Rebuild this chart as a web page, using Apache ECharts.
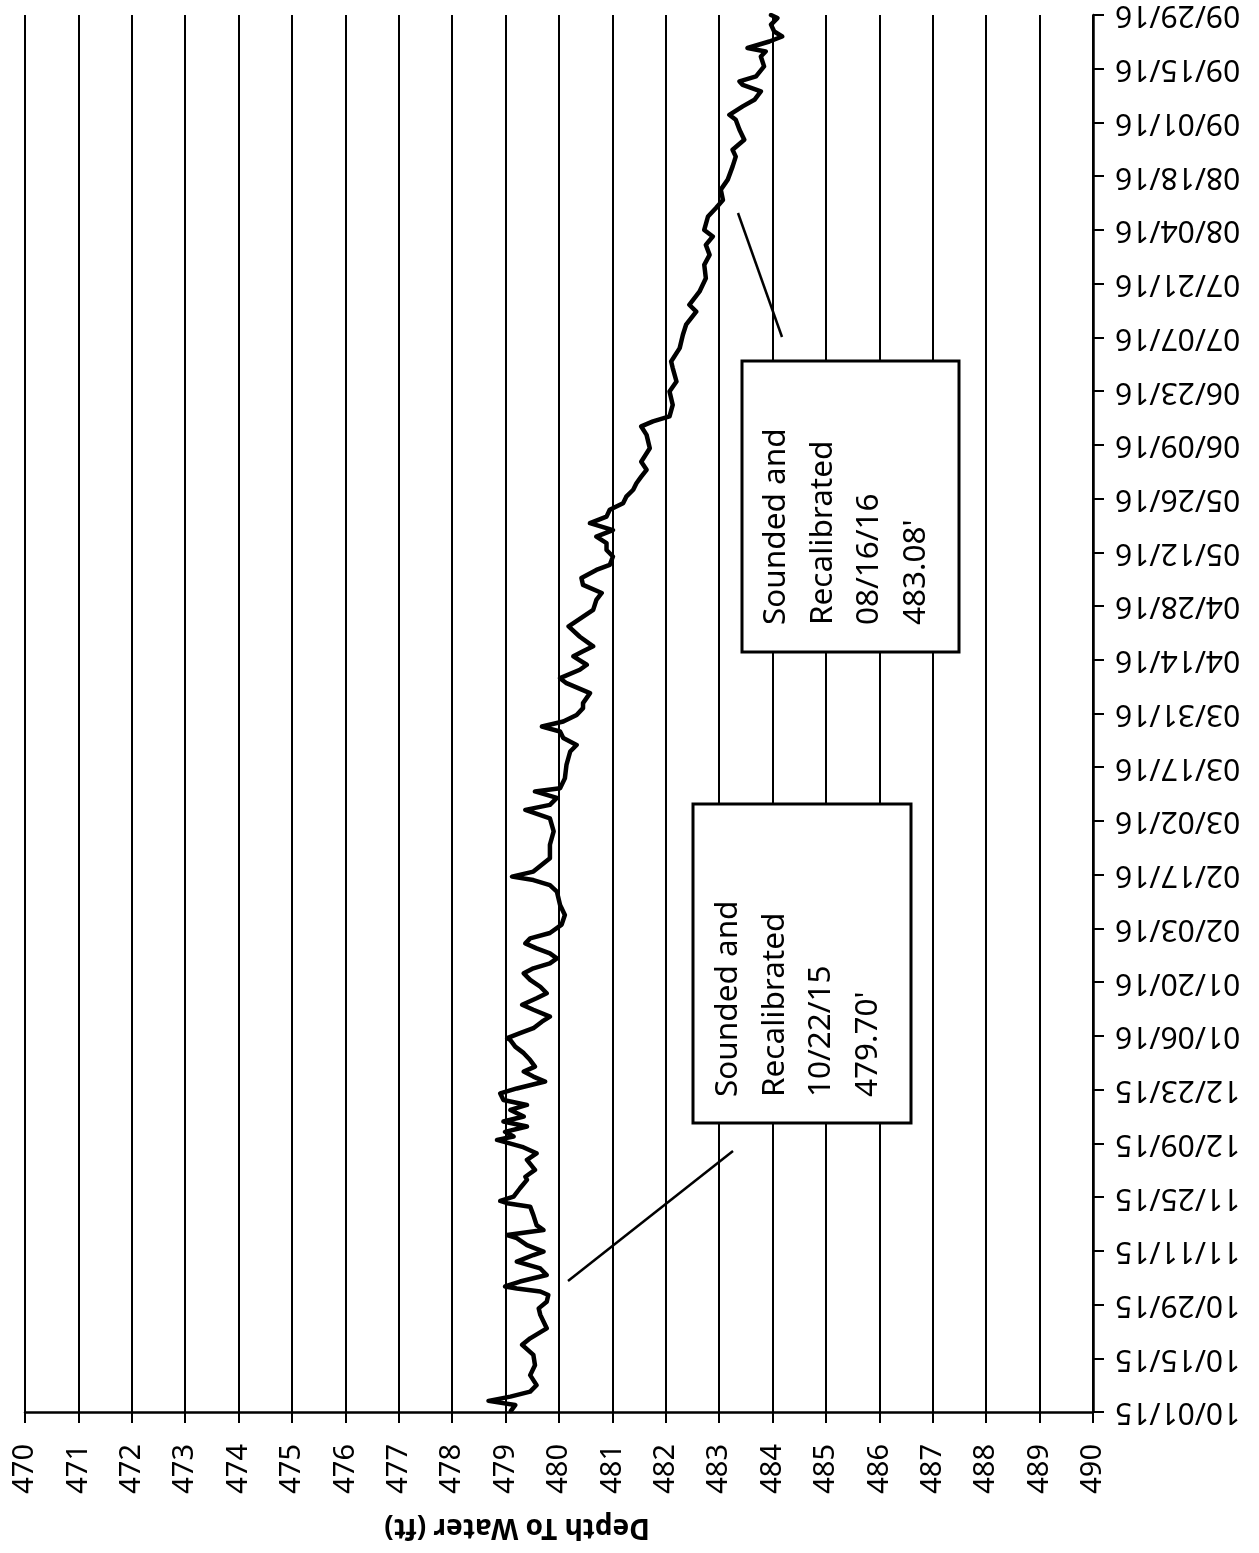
<!DOCTYPE html>
<html>
<head>
<meta charset="utf-8">
<script src="https://cdn.jsdelivr.net/npm/echarts@6/dist/echarts.min.js"></script>
<style>
html,body{margin:0;padding:0;background:#fff;}
#chart{width:1259px;height:1553px;}
</style>
</head>
<body>
<div id="chart"></div>
<script>
// Date tick labels (every 14 days from 10/01/15)
const dateTickLabels = ['10/01/15','10/15/15','10/29/15','11/11/15','11/25/15','12/09/15','12/23/15',
  '01/06/16','01/20/16','02/03/16','02/17/16','03/02/16','03/17/16','03/31/16','04/14/16','04/28/16',
  '05/12/16','05/26/16','06/09/16','06/23/16','07/07/16','07/21/16','08/04/16','08/18/16','09/01/16',
  '09/15/16','09/29/16'];

// Elapsed days since 10/01/15
const dayOffsets = [
0.3,1.8,2.9,4.0,5.3,7.0,9.6,12.2,14.9,17.5,19.2,21.8,25.3,27.0,28.7,30.5,31.4,32.2,32.7,34.0,35.7,37.4,39.2,40.9,41.8,43.5,45.3,46.1,47.4,48.7,51.3,53.5,54.4,55.0,56.1,58.3,60.5,
61.3,63.1,65.7,67.4,69.1,70.9,71.8,73.0,74.4,75.7,77.0,78.7,80.0,81.3,83.0,84.3,86.1,87.4,88.7,90.0,91.7,93.5,95.2,96.9,97.4,98.7,100.0,101.7,103.0,104.8,106.1,107.8,109.1,110.8,112.6,114.3,115.6,116.9,118.2,119.5,120.8,122.1,
123.4,124.8,127.0,129.5,132.1,135.6,137.3,138.6,139.5,140.8,144.3,147.8,151.3,154.7,156.9,158.2,160.0,161.7,162.5,165.1,168.6,172.1,173.8,175.6,177.3,178.6,179.9,181.6,183.4,
184.7,187.3,189.9,191.2,193.4,194.7,196.9,198.2,199.5,202.0,204.7,209.0,211.6,213.4,215.5,217.3,219.4,220.7,222.9,224.6,226.4,228.1,229.8,231.6,233.3,235.1,236.8,238.5,240.3,242.0,243.7,245.5,
247.6,251.1,254.6,256.8,258.1,259.4,262.4,265.9,268.5,272.0,273.7,277.2,280.7,283.3,286.7,288.5,291.9,295.4,298.9,301.5,304.1,306.3,
308.0,311.5,313.7,315.8,318.5,321.1,324.5,327.1,328.9,331.5,334.1,336.7,338.0,340.2,341.9,344.1,345.8,346.7,348.0,350.6,353.2,354.5,355.4,357.1,358.4,359.7,361.5,363.2,364.0];

// Depth to water (ft)
const depthFt = [
479.10,479.18,478.68,479.09,479.46,479.58,479.46,479.55,479.52,479.31,479.46,479.77,479.65,479.62,479.77,479.80,479.65,479.21,478.99,479.27,479.77,479.65,479.21,479.52,479.71,479.40,479.21,479.03,479.71,479.58,479.52,479.46,479.03,478.90,479.15,479.27,479.40,
479.37,479.55,479.40,479.58,479.31,478.84,479.15,478.99,479.40,478.96,479.34,479.09,479.40,478.96,478.90,479.21,479.74,479.52,479.34,479.55,479.46,479.34,479.18,479.09,479.03,479.27,479.52,479.68,479.83,479.52,479.31,479.58,479.77,479.65,479.46,479.34,479.52,479.83,479.96,479.83,479.58,479.37,
479.46,479.83,480.05,480.11,480.02,479.96,479.83,479.52,479.12,479.52,479.83,479.83,479.90,479.83,479.37,479.83,479.96,479.55,480.02,480.11,480.14,480.21,480.33,480.08,480.02,479.68,480.08,480.33,480.45,
480.45,480.58,480.14,480.02,480.39,480.52,480.27,480.45,480.64,480.39,480.18,480.64,480.70,480.80,480.45,480.42,480.70,480.95,481.01,480.89,480.89,480.70,481.01,480.58,480.89,480.95,481.20,481.26,481.39,481.45,481.54,481.64,
481.54,481.70,481.64,481.54,481.76,482.07,482.13,482.07,482.20,482.13,482.10,482.26,482.32,482.38,482.57,482.44,482.63,482.75,482.72,482.82,482.75,482.88,
482.72,482.79,482.94,483.07,483.03,483.16,483.25,483.31,483.25,483.47,483.38,483.31,483.19,483.44,483.66,483.78,483.44,483.38,483.69,483.84,483.78,483.87,483.53,483.94,484.18,484.03,483.97,484.09,483.97];

const axisTitle = 'Depth To Water (ft)';
const note1Lines = ['Sounded and', 'Recalibrated', '10/22/15', "479.70'"];
const note2Lines = ['Sounded and', 'Recalibrated', '08/16/16', "483.08'"];

const FONT = '"Noto Sans", sans-serif';
const seriesData = dayOffsets.map((d, i) => [depthFt[i], d]);

const chart = echarts.init(document.getElementById('chart'), null, {renderer: 'canvas'});
chart.setOption({
  backgroundColor: '#ffffff',
  animation: false,
  grid: {left: 25, right: 166, top: 15, bottom: 141, containLabel: false},
  xAxis: {
    type: 'value', min: 470, max: 490, interval: 1, position: 'bottom',
    axisLine: {show: true, lineStyle: {color: '#000', width: 2.5}},
    axisTick: {show: true, length: 11, lineStyle: {color: '#000', width: 2}},
    axisLabel: {rotate: 90, fontSize: 29, color: '#000', fontFamily: FONT, margin: 32},
    splitLine: {show: true, lineStyle: {color: '#000', width: 2}}
  },
  yAxis: {
    type: 'value', min: 0, max: 364, interval: 14, position: 'right',
    axisLine: {show: true, lineStyle: {color: '#000', width: 2.5}},
    axisTick: {show: true, length: 11, lineStyle: {color: '#000', width: 2}},
    axisLabel: {rotate: 180, fontSize: 30, color: '#000', fontFamily: FONT, margin: 22,
      formatter: v => dateTickLabels[Math.round(v / 14)] || ''},
    splitLine: {show: false}
  },
  series: [{
    type: 'line', data: seriesData, showSymbol: false, symbol: 'none',
    lineStyle: {color: '#000', width: 4.5, join: 'round', cap: 'round'}, z: 3
  }],
  graphic: [
    {type: 'line', shape: {x1: 568, y1: 1281, x2: 733, y2: 1151}, style: {stroke: '#000', lineWidth: 2.5}, z: 10},
    {type: 'line', shape: {x1: 738, y1: 213, x2: 782, y2: 337}, style: {stroke: '#000', lineWidth: 2.5}, z: 10},
    {type: 'rect', shape: {x: 693, y: 804, width: 218, height: 319}, style: {fill: '#fff', stroke: '#000', lineWidth: 3}, z: 10},
    {type: 'rect', shape: {x: 742, y: 361, width: 217, height: 291}, style: {fill: '#fff', stroke: '#000', lineWidth: 3}, z: 10},
    {type: 'text', x: 705, y: 1097, rotation: Math.PI / 2, z: 11,
      style: {text: note1Lines.join('\n'), fontSize: 31.5, lineHeight: 46.5, fontFamily: FONT, fill: '#000', align: 'left', verticalAlign: 'top'}},
    {type: 'text', x: 753, y: 625, rotation: Math.PI / 2, z: 11,
      style: {text: note2Lines.join('\n'), fontSize: 31.5, lineHeight: 46.5, fontFamily: FONT, fill: '#000', align: 'left', verticalAlign: 'top'}},
    {type: 'text', x: 517, y: 1527, rotation: Math.PI, z: 11,
      style: {text: axisTitle, fontSize: 28, fontWeight: 'bold', fontFamily: FONT, fill: '#000', align: 'center', verticalAlign: 'middle'}}
  ]
});
</script>
</body>
</html>
